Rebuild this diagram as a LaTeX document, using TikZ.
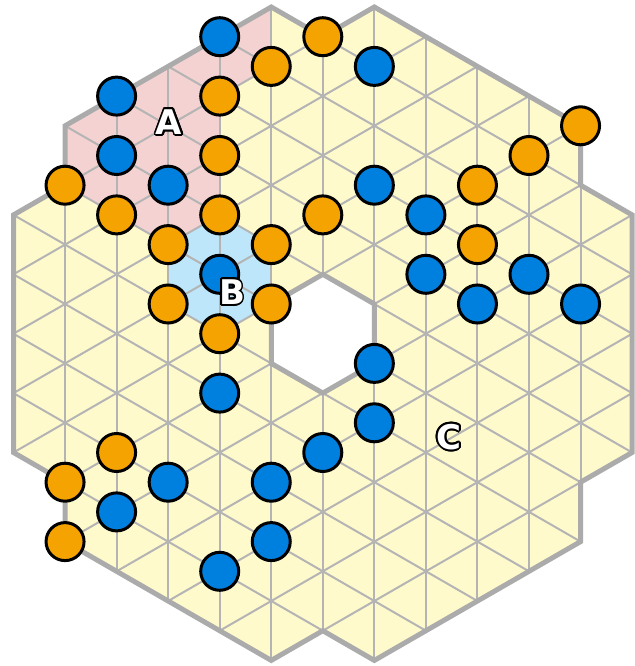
\documentclass[tikz,border=0pt]{standalone}
\usepackage{fontspec}
\newfontfamily\lblfont{DejaVu Sans}
\definecolor{cyel}{HTML}{FFFACC}
\definecolor{cpink}{HTML}{F4D2D2}
\definecolor{clblue}{HTML}{BEE6FA}
\definecolor{cblue}{HTML}{0080DE}
\definecolor{corange}{HTML}{F5A300}
\definecolor{cgrid}{HTML}{B4B4B4}
\definecolor{cborder}{HTML}{ABABAB}
\tikzset{
  gridline/.style={draw=cgrid, line width=2pt},
  borderline/.style={draw=cborder, line width=5pt, line join=miter},
  bstone/.style={circle, draw=black, line width=3pt, fill=cblue, minimum size=38pt, inner sep=0pt},
  ostone/.style={circle, draw=black, line width=3pt, fill=corange, minimum size=38pt, inner sep=0pt},
  lbl/.style={font=\lblfont\bfseries\fontsize{34}{34}\selectfont, inner sep=0pt, anchor=center},
  outershape/.style={insert path={(p5-0) -- (p6-1) -- (p7-0) -- (p11-4) -- (p11-6) -- (p12-7) -- (p12-15) -- (p11-16) -- (p11-18) -- (p7-22) -- (p6-21) -- (p5-22) -- (p1-18) -- (p1-16) -- (p0-15) -- (p0-7) -- (p1-6) -- (p1-4) -- cycle}},
  holeshape/.style={insert path={(p6-9) -- (p7-10) -- (p7-12) -- (p6-13) -- (p5-12) -- (p5-10) -- cycle}}
}
\begin{document}
\begin{tikzpicture}[x=1pt,y=-1pt]
\useasboundingbox (0,0) rectangle (634,666);
\foreach \i in {0,...,12}{
  \foreach \k in {0,...,22}{
    \coordinate (p\i-\k) at ({13.5+51.55*\i},{7+29.7*\k});
  }
}
% region fills
\fill[cyel, outershape];
\fill[cpink] (p1-4) -- (p5-0) -- (p5-2) -- (p4-3) -- (p4-7) -- (p3-8) -- (p2-7) -- (p1-6) -- cycle;
\fill[clblue] (p4-7) -- (p5-8) -- (p5-10) -- (p4-11) -- (p3-10) -- (p3-8) -- cycle;
% grid
\begin{scope}
  \clip[outershape];
  \foreach \i in {0,...,12}{
    \draw[gridline] ({13.5+51.55*\i},-10) -- ({13.5+51.55*\i},680);
  }
  \foreach \c in {-13,-11,...,23}{
    \draw[gridline] ({13.5+51.55*(-1)},{7+29.7*(\c-1)}) -- ({13.5+51.55*13},{7+29.7*(\c+13)});
  }
  \foreach \c in {-1,1,...,35}{
    \draw[gridline] ({13.5+51.55*(-1)},{7+29.7*(\c+1)}) -- ({13.5+51.55*13},{7+29.7*(\c-13)});
  }
\end{scope}
% hole
\fill[white, holeshape];
\draw[borderline, holeshape];
\draw[borderline, outershape];
% blue stones
\node[bstone] (b1) at (p4-1) {};
\node[bstone] (b2) at (p2-3) {};
\node[bstone] (b3) at (p2-5) {};
\node[bstone] (b4) at (p3-6) {};
\node[bstone] (b5) at (p4-9) {};
\node[bstone] (b6) at (p4-13) {};
\node[bstone] (b7) at (p7-2) {};
\node[bstone] (b8) at (p7-6) {};
\node[bstone] (b9) at (p8-7) {};
\node[bstone] (b10) at (p8-9) {};
\node[bstone] (b11) at (p9-10) {};
\node[bstone] (b12) at (p10-9) {};
\node[bstone] (b13) at (p11-10) {};
\node[bstone] (b14) at (p7-12) {};
\node[bstone] (b15) at (p7-14) {};
\node[bstone] (b16) at (p6-15) {};
\node[bstone] (b17) at (p5-16) {};
\node[bstone] (b18) at (p5-18) {};
\node[bstone] (b19) at (p4-19) {};
\node[bstone] (b20) at (p3-16) {};
\node[bstone] (b21) at (p2-17) {};
% orange stones
\node[ostone] (o1) at (p6-1) {};
\node[ostone] (o2) at (p5-2) {};
\node[ostone] (o3) at (p4-3) {};
\node[ostone] (o4) at (p4-5) {};
\node[ostone] (o5) at (p4-7) {};
\node[ostone] (o6) at (p1-6) {};
\node[ostone] (o7) at (p2-7) {};
\node[ostone] (o8) at (p3-8) {};
\node[ostone] (o9) at (p5-8) {};
\node[ostone] (o10) at (p6-7) {};
\node[ostone] (o11) at (p3-10) {};
\node[ostone] (o12) at (p5-10) {};
\node[ostone] (o13) at (p4-11) {};
\node[ostone] (o14) at (p11-4) {};
\node[ostone] (o15) at (p10-5) {};
\node[ostone] (o16) at (p9-6) {};
\node[ostone] (o17) at (p9-8) {};
\node[ostone] (o18) at (p2-15) {};
\node[ostone] (o19) at (p1-16) {};
\node[ostone] (o20) at (p1-18) {};
% labels
\coordinate (lA) at (169,122);
\coordinate (lB) at (232,292);
\coordinate (lC) at (449,437);
\foreach \pos/\t in {lA/A,lB/B,lC/C}{
  \foreach \a in {0,20,...,340}{
    \node[lbl, text=black] at ([shift={(\a:1.8)}]\pos) {\t};
  }
}
\node[lbl, text=white] (tA) at (lA) {A};
\node[lbl, text=white] (tB) at (lB) {B};
\node[lbl, text=white] (tC) at (lC) {C};
\end{tikzpicture}
\end{document}
